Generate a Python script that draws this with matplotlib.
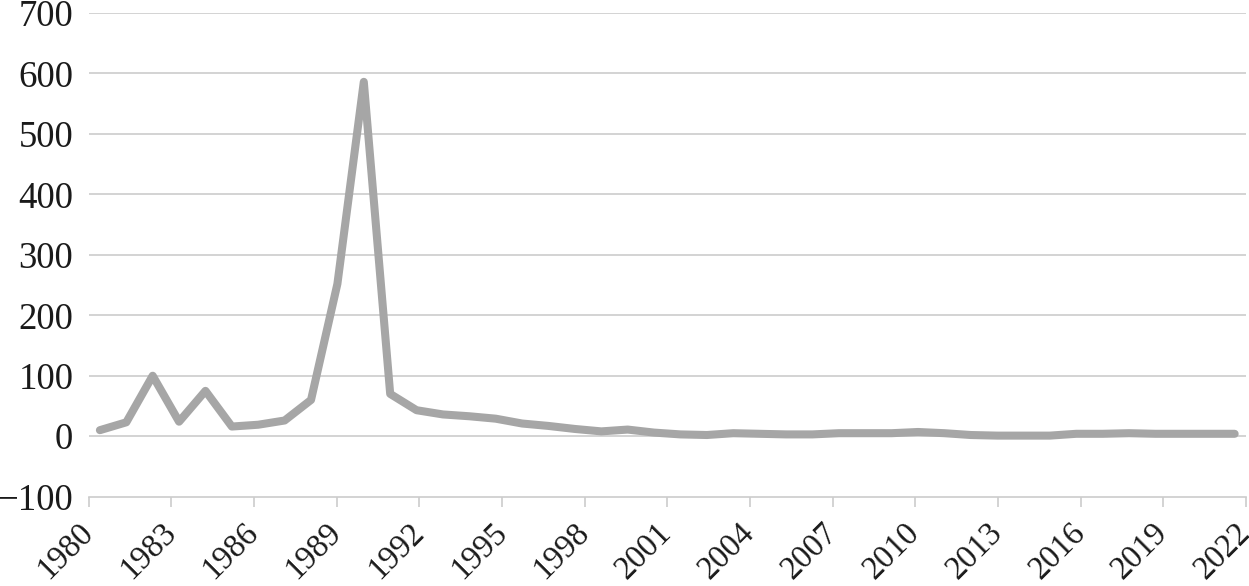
import numpy as np
import matplotlib
matplotlib.use('Agg')
import matplotlib.pyplot as plt

# yearly values (1980 .. 2023)
years = list(range(1980, 2024))
values = [10, 23, 100, 24, 75, 16, 19, 26, 60, 252,
          586, 70, 43, 36, 33, 29, 21, 17, 12, 8,
          11, 6, 3, 2, 5, 4, 3, 3, 5, 5,
          5, 7, 5, 2, 1, 1, 1, 4, 4, 5,
          4, 4, 4, 4]
tick_labels = [str(y) for y in range(1980, 2023, 3)]
y_ticks = list(range(-100, 800, 100))

plt.rcParams['font.family'] = ['Liberation Serif', 'DejaVu Serif']

fig = plt.figure(figsize=(12.49, 5.86), dpi=100)
ax = fig.add_axes([0.0709, 0.1524, 0.9267, 0.8256])

x = np.arange(len(years))
ax.plot(x, values, '-', color='#a6a6a6', lw=5.8, solid_capstyle='round',
        solid_joinstyle='round', zorder=3)

ax.set_ylim(-100, 700)
ax.set_yticks(y_ticks)
ax.set_yticklabels(['\u2212100' if v < 0 else str(v) for v in y_ticks])
margin = 0.43
ax.set_xlim(-margin, len(years) - 1 + margin)
ax.set_xticks(np.linspace(-margin, len(years) - 1 + margin, len(tick_labels)))
ax.set_xticklabels(tick_labels, rotation=45, ha='right', va='center',
                   rotation_mode='anchor')

for v in y_ticks[1:]:
	ax.axhline(v, color='#cccccc', lw=1.2, zorder=1)

for s in ['top', 'right', 'left']:
	ax.spines[s].set_visible(False)
ax.spines['bottom'].set_color('#cccccc')
ax.spines['bottom'].set_linewidth(1.2)

ax.tick_params(axis='y', length=0, pad=11, labelsize=26.5, labelcolor='#1a1a1a')
ax.tick_params(axis='x', length=7.5, width=1.2, color='#cccccc', pad=15,
               labelsize=23.5, labelcolor='#1a1a1a')

fig.savefig('out.png', dpi=100)
